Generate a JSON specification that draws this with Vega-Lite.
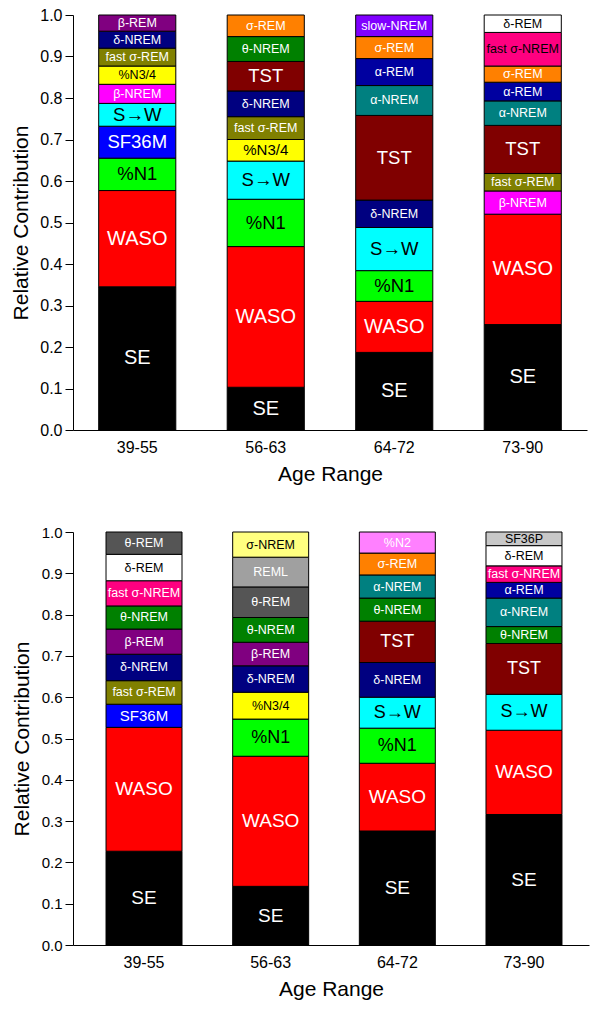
{
  "$schema": "https://vega.github.io/schema/vega-lite/v6.json",
  "padding": {"left": 10, "top": 7, "right": 8, "bottom": 5},
  "spacing": 41,
  "config": {
    "font": "Liberation Sans",
    "view": {"stroke": null},
    "axis": {"domainColor": "#000000", "tickColor": "#000000", "labelColor": "#000000", "titleColor": "#000000", "labelFont": "Liberation Sans", "titleFont": "Liberation Sans", "titleFontWeight": "normal", "labelFontSize": 16, "titleFontSize": 21, "grid": false}
  },
  "datasets": {
    "top": [
      {"age": "39-55", "k": 1, "label": "SE", "value": 0.345},
      {"age": "39-55", "k": 2, "label": "WASO", "value": 0.232},
      {"age": "39-55", "k": 3, "label": "%N1", "value": 0.078},
      {"age": "39-55", "k": 4, "label": "SF36M", "value": 0.077},
      {"age": "39-55", "k": 5, "label": "S→W", "value": 0.055},
      {"age": "39-55", "k": 6, "label": "β-NREM", "value": 0.046},
      {"age": "39-55", "k": 7, "label": "%N3/4", "value": 0.044},
      {"age": "39-55", "k": 8, "label": "fast σ-REM", "value": 0.043},
      {"age": "39-55", "k": 9, "label": "δ-NREM", "value": 0.041},
      {"age": "39-55", "k": 10, "label": "β-REM", "value": 0.039},
      {"age": "56-63", "k": 1, "label": "SE", "value": 0.103},
      {"age": "56-63", "k": 2, "label": "WASO", "value": 0.339},
      {"age": "56-63", "k": 3, "label": "%N1", "value": 0.114},
      {"age": "56-63", "k": 4, "label": "S→W", "value": 0.092},
      {"age": "56-63", "k": 5, "label": "%N3/4", "value": 0.052},
      {"age": "56-63", "k": 6, "label": "fast σ-REM", "value": 0.055},
      {"age": "56-63", "k": 7, "label": "δ-NREM", "value": 0.062},
      {"age": "56-63", "k": 8, "label": "TST", "value": 0.071},
      {"age": "56-63", "k": 9, "label": "θ-NREM", "value": 0.060},
      {"age": "56-63", "k": 10, "label": "σ-REM", "value": 0.052},
      {"age": "64-72", "k": 1, "label": "SE", "value": 0.187},
      {"age": "64-72", "k": 2, "label": "WASO", "value": 0.123},
      {"age": "64-72", "k": 3, "label": "%N1", "value": 0.074},
      {"age": "64-72", "k": 4, "label": "S→W", "value": 0.104},
      {"age": "64-72", "k": 5, "label": "δ-NREM", "value": 0.066},
      {"age": "64-72", "k": 6, "label": "TST", "value": 0.204},
      {"age": "64-72", "k": 7, "label": "α-NREM", "value": 0.072},
      {"age": "64-72", "k": 8, "label": "α-REM", "value": 0.065},
      {"age": "64-72", "k": 9, "label": "σ-REM", "value": 0.053},
      {"age": "64-72", "k": 10, "label": "slow-NREM", "value": 0.052},
      {"age": "73-90", "k": 1, "label": "SE", "value": 0.254},
      {"age": "73-90", "k": 2, "label": "WASO", "value": 0.266},
      {"age": "73-90", "k": 3, "label": "β-NREM", "value": 0.056},
      {"age": "73-90", "k": 4, "label": "fast σ-REM", "value": 0.042},
      {"age": "73-90", "k": 5, "label": "TST", "value": 0.116},
      {"age": "73-90", "k": 6, "label": "α-NREM", "value": 0.059},
      {"age": "73-90", "k": 7, "label": "α-REM", "value": 0.045},
      {"age": "73-90", "k": 8, "label": "σ-REM", "value": 0.039},
      {"age": "73-90", "k": 9, "label": "fast σ-NREM", "value": 0.081},
      {"age": "73-90", "k": 10, "label": "δ-REM", "value": 0.042}
    ],
    "bottom": [
      {"age": "39-55", "k": 1, "label": "SE", "value": 0.227},
      {"age": "39-55", "k": 2, "label": "WASO", "value": 0.300},
      {"age": "39-55", "k": 3, "label": "SF36M", "value": 0.056},
      {"age": "39-55", "k": 4, "label": "fast σ-REM", "value": 0.057},
      {"age": "39-55", "k": 5, "label": "δ-NREM", "value": 0.064},
      {"age": "39-55", "k": 6, "label": "β-REM", "value": 0.061},
      {"age": "39-55", "k": 7, "label": "θ-NREM", "value": 0.056},
      {"age": "39-55", "k": 8, "label": "fast σ-NREM", "value": 0.061},
      {"age": "39-55", "k": 9, "label": "δ-REM", "value": 0.064},
      {"age": "39-55", "k": 10, "label": "θ-REM", "value": 0.054},
      {"age": "56-63", "k": 1, "label": "SE", "value": 0.142},
      {"age": "56-63", "k": 2, "label": "WASO", "value": 0.315},
      {"age": "56-63", "k": 3, "label": "%N1", "value": 0.090},
      {"age": "56-63", "k": 4, "label": "%N3/4", "value": 0.065},
      {"age": "56-63", "k": 5, "label": "δ-NREM", "value": 0.064},
      {"age": "56-63", "k": 6, "label": "β-REM", "value": 0.057},
      {"age": "56-63", "k": 7, "label": "θ-NREM", "value": 0.060},
      {"age": "56-63", "k": 8, "label": "θ-REM", "value": 0.074},
      {"age": "56-63", "k": 9, "label": "REML", "value": 0.072},
      {"age": "56-63", "k": 10, "label": "σ-NREM", "value": 0.061},
      {"age": "64-72", "k": 1, "label": "SE", "value": 0.276},
      {"age": "64-72", "k": 2, "label": "WASO", "value": 0.164},
      {"age": "64-72", "k": 3, "label": "%N1", "value": 0.085},
      {"age": "64-72", "k": 4, "label": "S→W", "value": 0.075},
      {"age": "64-72", "k": 5, "label": "δ-NREM", "value": 0.084},
      {"age": "64-72", "k": 6, "label": "TST", "value": 0.100},
      {"age": "64-72", "k": 7, "label": "θ-NREM", "value": 0.056},
      {"age": "64-72", "k": 8, "label": "α-NREM", "value": 0.056},
      {"age": "64-72", "k": 9, "label": "σ-REM", "value": 0.053},
      {"age": "64-72", "k": 10, "label": "%N2", "value": 0.051},
      {"age": "73-90", "k": 1, "label": "SE", "value": 0.316},
      {"age": "73-90", "k": 2, "label": "WASO", "value": 0.204},
      {"age": "73-90", "k": 3, "label": "S→W", "value": 0.087},
      {"age": "73-90", "k": 4, "label": "TST", "value": 0.123},
      {"age": "73-90", "k": 5, "label": "θ-NREM", "value": 0.041},
      {"age": "73-90", "k": 6, "label": "α-NREM", "value": 0.069},
      {"age": "73-90", "k": 7, "label": "α-REM", "value": 0.038},
      {"age": "73-90", "k": 8, "label": "fast σ-NREM", "value": 0.040},
      {"age": "73-90", "k": 9, "label": "δ-REM", "value": 0.049},
      {"age": "73-90", "k": 10, "label": "SF36P", "value": 0.033}
    ]
  },
  "vconcat": [
    {
      "width": 514,
      "height": 415,
      "data": {"name": "top"},
      "transform": [
        {"stack": "value", "groupby": ["age"], "sort": [{"field": "k", "order": "ascending"}], "as": ["y0", "y1"]},
        {"calculate": "(datum.y0 + datum.y1) / 2", "as": "ym"}
      ],
      "encoding": {
        "x": {"field": "age", "type": "nominal", "sort": ["39-55", "56-63", "64-72", "73-90"], "scale": {"paddingInner": 0.4, "paddingOuter": 0.2}, "axis": {"title": "Age Range", "labelAngle": 0, "ticks": false, "labelPadding": 9, "titlePadding": 8}}
      },
      "layer": [
        {
          "mark": {"type": "bar", "stroke": "#000000", "strokeWidth": 1},
          "encoding": {
            "y": {"field": "y0", "type": "quantitative", "scale": {"domain": [0, 1], "nice": false}, "axis": {"title": "Relative Contribution", "values": [0, 0.05, 0.1, 0.15, 0.2, 0.25, 0.3, 0.35, 0.4, 0.45, 0.5, 0.55, 0.6, 0.65, 0.7, 0.75, 0.8, 0.85, 0.9, 0.95, 1.0], "labelExpr": "round(datum.value * 20) % 2 === 0 ? format(datum.value, '.1f') : ''", "tickSize": {"condition": {"test": "round(datum.value * 20) % 2 === 0", "value": 8}, "value": 4}, "labelPadding": 3, "titlePadding": 8}},
            "y2": {"field": "y1"},
            "color": {"field": "label", "type": "nominal", "legend": null, "scale": {"domain": ["SE", "WASO", "%N1", "SF36M", "S→W", "β-NREM", "%N3/4", "fast σ-REM", "δ-NREM", "β-REM", "σ-REM", "θ-NREM", "TST", "slow-NREM", "α-REM", "α-NREM", "δ-REM", "fast σ-NREM", "θ-REM", "REML", "σ-NREM", "%N2", "SF36P"], "range": ["#000000", "#FF0000", "#00FF00", "#0000FF", "#00FFFF", "#FF00FF", "#FFFF00", "#808000", "#000080", "#800080", "#FF8000", "#008000", "#800000", "#8000FF", "#0000A0", "#008080", "#FFFFFF", "#FF0080", "#555555", "#A0A0A0", "#FFFF80", "#FF80FF", "#C8C8C8"]}}
          }
        },
        {
          "mark": {"type": "text", "font": "Liberation Sans", "align": "center", "baseline": "middle"},
          "encoding": {
            "y": {"field": "ym", "type": "quantitative"},
            "text": {"field": "label"},
            "color": {"condition": {"test": "indexof(['%N1', 'S→W', '%N3/4', 'δ-REM', 'σ-NREM', 'SF36P', 'fast σ-NREM'], datum.label) >= 0", "value": "#000000"}, "value": "#FFFFFF"},
            "size": {"condition": [
              {"test": "datum.label === 'SE' || datum.label === 'WASO'", "value": 20},
              {"test": "datum.label === '%N1' || datum.label === 'S→W' || datum.label === 'SF36M' || datum.label === 'TST'", "value": 18.5},
              {"test": "datum.label === '%N3/4' && datum.age === '56-63'", "value": 15}
            ], "value": 12.5}
          }
        }
      ]
    },
    {
      "width": 516,
      "height": 413,
      "data": {"name": "bottom"},
      "transform": [
        {"stack": "value", "groupby": ["age"], "sort": [{"field": "k", "order": "ascending"}], "as": ["y0", "y1"]},
        {"calculate": "(datum.y0 + datum.y1) / 2", "as": "ym"}
      ],
      "encoding": {
        "x": {"field": "age", "type": "nominal", "sort": ["39-55", "56-63", "64-72", "73-90"], "scale": {"paddingInner": 0.4, "paddingOuter": 0.237, "align": 0.55}, "axis": {"title": "Age Range", "labelAngle": 0, "ticks": false, "labelPadding": 9, "titlePadding": 8}}
      },
      "layer": [
        {
          "mark": {"type": "bar", "stroke": "#000000", "strokeWidth": 1},
          "encoding": {
            "y": {"field": "y0", "type": "quantitative", "scale": {"domain": [0, 1], "nice": false}, "axis": {"title": "Relative Contribution", "labelFontSize": 15, "values": [0, 0.05, 0.1, 0.15, 0.2, 0.25, 0.3, 0.35, 0.4, 0.45, 0.5, 0.55, 0.6, 0.65, 0.7, 0.75, 0.8, 0.85, 0.9, 0.95, 1.0], "labelExpr": "round(datum.value * 20) % 2 === 0 ? format(datum.value, '.1f') : ''", "tickSize": {"condition": {"test": "round(datum.value * 20) % 2 === 0", "value": 8}, "value": 4}, "labelPadding": 3, "titlePadding": 9}},
            "y2": {"field": "y1"},
            "color": {"field": "label", "type": "nominal", "legend": null, "scale": {"domain": ["SE", "WASO", "%N1", "SF36M", "S→W", "β-NREM", "%N3/4", "fast σ-REM", "δ-NREM", "β-REM", "σ-REM", "θ-NREM", "TST", "slow-NREM", "α-REM", "α-NREM", "δ-REM", "fast σ-NREM", "θ-REM", "REML", "σ-NREM", "%N2", "SF36P"], "range": ["#000000", "#FF0000", "#00FF00", "#0000FF", "#00FFFF", "#FF00FF", "#FFFF00", "#808000", "#000080", "#800080", "#FF8000", "#008000", "#800000", "#8000FF", "#0000A0", "#008080", "#FFFFFF", "#FF0080", "#555555", "#A0A0A0", "#FFFF80", "#FF80FF", "#C8C8C8"]}}
          }
        },
        {
          "mark": {"type": "text", "font": "Liberation Sans", "align": "center", "baseline": "middle"},
          "encoding": {
            "y": {"field": "ym", "type": "quantitative"},
            "text": {"field": "label"},
            "color": {"condition": {"test": "indexof(['%N1', 'S→W', '%N3/4', 'δ-REM', 'σ-NREM', 'SF36P'], datum.label) >= 0", "value": "#000000"}, "value": "#FFFFFF"},
            "size": {"condition": [
              {"test": "datum.label === 'SE' || datum.label === 'WASO'", "value": 19},
              {"test": "datum.label === '%N1' || datum.label === 'S→W' || datum.label === 'TST'", "value": 18},
              {"test": "datum.label === 'SF36M'", "value": 15}
            ], "value": 12.5}
          }
        }
      ]
    }
  ]
}
